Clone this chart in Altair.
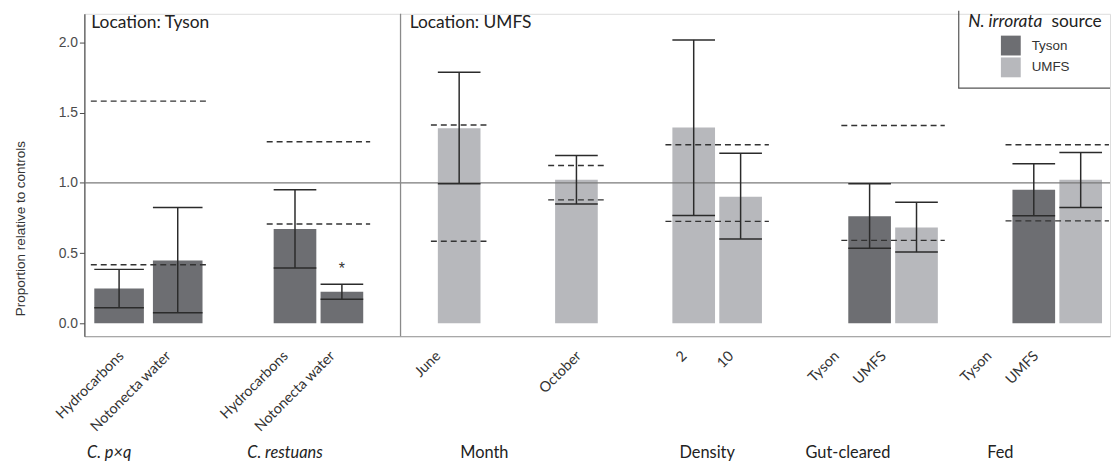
import altair as alt
import pandas as pd

# ---------------- data ----------------
groups = ["C. p×q", "C. p×q", "C. restuans", "C. restuans", "Month", "Month",
          "Density", "Density", "Gut-cleared", "Gut-cleared", "Fed", "Fed"]
labels = ["Hydrocarbons", "Notonecta water", "Hydrocarbons", "Notonecta water",
          "June", "October", "2", "10", "Tyson", "UMFS", "Tyson", "UMFS"]
source = ["Tyson", "Tyson", "Tyson", "Tyson", "UMFS", "UMFS", "UMFS", "UMFS",
          "Tyson", "UMFS", "Tyson", "UMFS"]
mean = [0.247, 0.447, 0.671, 0.224, 1.390, 1.022, 1.395, 0.902, 0.763, 0.683, 0.951, 1.022]
lower = [0.111, 0.075, 0.393, 0.172, 0.994, 0.850, 0.768, 0.601, 0.535, 0.507, 0.766, 0.825]
upper = [0.384, 0.825, 0.951, 0.278, 1.788, 1.196, 2.019, 1.211, 0.994, 0.862, 1.136, 1.216]
sig = ["", "", "", "*", "", "", "", "", "", "", "", ""]

# control intervals (dashed lines), one per set of bars
ctrl_of_bar = [0, 0, 1, 1, 2, 3, 4, 4, 5, 5, 6, 6]
ctrl_low = [0.417, 0.707, 0.584, 0.879, 0.726, 0.591, 0.730]
ctrl_high = [1.583, 1.293, 1.413, 1.124, 1.272, 1.409, 1.272]

group_titles = ["C. p×q", "C. restuans", "Month", "Density", "Gut-cleared", "Fed"]
title_italic = [True, True, False, False, False, False]
locations = ["Location: Tyson", "Location: UMFS"]
legend_levels = ["Tyson", "UMFS"]

# ---------------- layout (slots on a band scale) ----------------
LEAD, TRAIL = 2, 2
N_CORE = 83
BAR_SLOT = [0, 5, 15, 19, 29, 39, 49, 53, 64, 68, 78, 82]
LABEL_SLOT = [0, 4, 14, 18, 27, 39, 48, 52, 61, 65, 74, 78]
TITLE_SLOT = [-1, 14, 31, 50, 62, 75]
DIVIDER_SLOT = 24
DASH_REACH = 2
slots = [f"s{i:02d}" for i in range(LEAD + N_CORE + TRAIL)]


def S(i):
    return slots[i + LEAD]


W, H = 1034, 325
DARK, LIGHT = "#6d6e72", "#b7b8bc"
INK = "#2b2b2b"

bars = pd.DataFrame({
    "group": groups, "label": labels, "source": source,
    "mean": mean, "lower": lower, "upper": upper, "sig": sig,
    "slot": [S(i) for i in BAR_SLOT],
    "wide": [g == "C. p×q" for g in groups],
})

first_slot, last_slot = {}, {}
for i, c in enumerate(ctrl_of_bar):
    first_slot.setdefault(c, BAR_SLOT[i])
    last_slot[c] = BAR_SLOT[i]
dash_rows = []
for c in range(len(ctrl_low)):
    for v in (ctrl_low[c], ctrl_high[c]):
        dash_rows.append({"x0": S(first_slot[c] - DASH_REACH),
                          "x1": S(last_slot[c] + DASH_REACH), "y": v})
dashed = pd.DataFrame(dash_rows)

lab_df = pd.DataFrame({"label": labels, "slot": [S(i) for i in LABEL_SLOT]})
title_df = pd.DataFrame({"title": group_titles, "italic": title_italic,
                         "slot": [S(i) for i in TITLE_SLOT]})
one = pd.DataFrame({"k": [0]})

xscale = alt.Scale(domain=slots, paddingInner=0, paddingOuter=0.23, align=1)
yscale = alt.Scale(domain=[-0.092, 2.205], nice=False, zero=False)
xaxis = alt.Axis(labels=False, ticks=False, grid=False, title=None,
                 domainColor="#a8a8a8", domainWidth=1.2)
yaxis = alt.Axis(values=[0, 0.5, 1, 1.5, 2], format=".1f", grid=False,
                 labelFont="Liberation Sans", labelFontSize=14, labelColor="#4a4a4a",
                 labelPadding=2, tickColor="#4a4a4a", tickSize=5, tickWidth=1,
                 domainColor="#4a4a4a", domainWidth=1.2,
                 title="Proportion relative to controls", titleFont="Liberation Sans",
                 titleFontSize=13.6, titleFontWeight="normal", titleColor="#333333",
                 titlePadding=31, titleY=216)


def X(field="slot", **kw):
    return alt.X(f"{field}:N", scale=xscale, axis=xaxis, **kw)


def Y(field):
    return alt.Y(f"{field}:Q", scale=yscale, axis=yaxis)


color = alt.Color("source:N", scale=alt.Scale(domain=legend_levels, range=[DARK, LIGHT]),
                  legend=alt.Legend(orient="none", legendX=924, legendY=22, title=None,
                                    symbolType="square", symbolSize=400,
                                    symbolStrokeWidth=0, labelFont="Liberation Sans",
                                    labelFontSize=13.5, labelColor="#333333",
                                    labelOffset=11, rowPadding=2, padding=0))

base = alt.Chart(bars)
layers = []
for wide, w in ((True, 50), (False, 43)):
    sub = base.transform_filter(alt.datum.wide == wide)
    layers.append(sub.mark_bar(width=w).encode(x=X(), y=Y("mean"), color=color))

ref_line = alt.Chart(one).mark_rule(color="#7a7a7a", strokeWidth=1.3).encode(
    y=alt.datum(1.0))
divider = alt.Chart(one).mark_rule(color="#8a8a8a", strokeWidth=1.3).encode(
    x=alt.datum(S(DIVIDER_SLOT)))

dash = alt.Chart(dashed).mark_rule(color="#333333", strokeWidth=1.4,
                                   strokeDash=[6, 4]).encode(
    x=X("x0", bandPosition=0.09),
    x2=alt.X2("x1", bandPosition=0.91),
    y=Y("y"))

err = base.mark_rule(color=INK, strokeWidth=1.5).encode(
    x=X(), y=Y("lower"), y2="upper")
caps = []
for wide, w in ((True, 50), (False, 43)):
    sub = base.transform_filter(alt.datum.wide == wide)
    for f in ("upper", "lower"):
        caps.append(sub.mark_tick(color=INK, size=w, thickness=1.5, opacity=1,
                                  orient="horizontal").encode(x=X(), y=Y(f)))

star = base.transform_filter(alt.datum.sig != "").mark_text(
    font="Liberation Sans", fontSize=16, color="#333333", baseline="middle", dy=-15
).encode(x=X(), y=Y("upper"), text="sig:N")

xlabels = alt.Chart(lab_df).mark_text(
    angle=315, align="right", baseline="top", font="Lato", fontSize=14.5,
    color="#333333", dx=-3
).encode(x=X(), y=alt.value(H + 11), text="label:N")

titles = []
for it in (True, False):
    titles.append(alt.Chart(title_df).transform_filter(alt.datum.italic == it).mark_text(
        font="Lato", fontSize=16.5, color="#222222", baseline="middle", align="center",
        fontStyle="italic" if it else "normal"
    ).encode(x=X(bandPosition=0.65), y=alt.value(H + 118), text="title:N"))

loc_texts = [
    alt.Chart(one).mark_text(font="Lato", fontSize=17.5, color="#222222", align="left",
                             baseline="middle").encode(
        x=alt.value(7), y=alt.value(9), text=alt.value(locations[0])),
    alt.Chart(one).mark_text(font="Lato", fontSize=17.5, color="#222222", align="left",
                             baseline="middle").encode(
        x=alt.value(328), y=alt.value(9), text=alt.value(locations[1])),
]

leg_title = [
    alt.Chart(one).mark_text(font="Lato", fontSize=17.5, fontStyle="italic",
                             color="#222222", align="left", baseline="middle").encode(
        x=alt.value(891), y=alt.value(8), text=alt.value("N. irrorata")),
    alt.Chart(one).mark_text(font="Lato", fontSize=17.5, color="#222222", align="left",
                             baseline="middle").encode(
        x=alt.value(975), y=alt.value(8), text=alt.value("source")),
]
leg_box = [
    alt.Chart(one).mark_rule(color="#555555", strokeWidth=1.2).encode(
        x=alt.value(881.5), y=alt.value(-3), y2=alt.value(75)),
    alt.Chart(one).mark_rule(color="#555555", strokeWidth=1.2).encode(
        x=alt.value(881), x2=alt.value(W), y=alt.value(75)),
]

chart = alt.layer(
    *layers, ref_line, divider, dash, err, *caps, star, xlabels, *titles,
    *loc_texts, *leg_title, *leg_box
).properties(
    width=W, height=H,
    padding={"left": 5, "top": 0, "right": 0, "bottom": 0},
).configure_view(strokeWidth=0).configure(background="white")

chart.save("out.html", embed_options={"renderer": "svg", "actions": False})
